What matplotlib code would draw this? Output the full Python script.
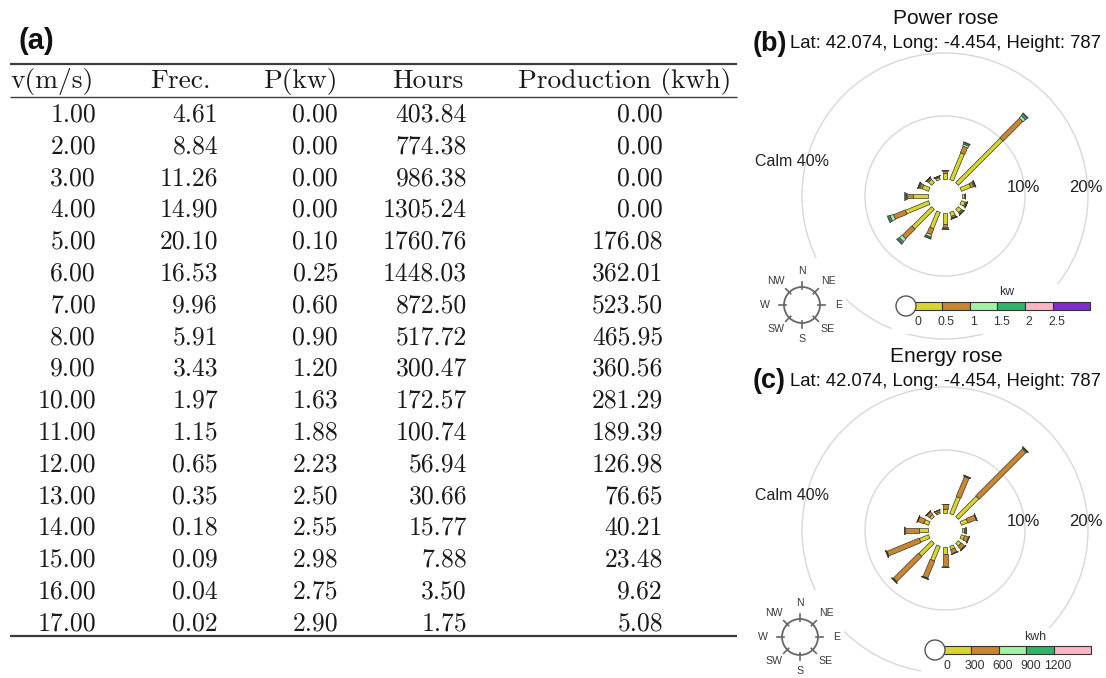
import numpy as np
import matplotlib
matplotlib.use("Agg")
import matplotlib.pyplot as plt
from matplotlib.patches import Polygon, Circle, Rectangle

# ---------------- wind / production table ----------------
speed = [1, 2, 3, 4, 5, 6, 7, 8, 9, 10, 11, 12, 13, 14, 15, 16, 17]
frec = [4.61, 8.84, 11.26, 14.90, 20.10, 16.53, 9.96, 5.91, 3.43, 1.97,
        1.15, 0.65, 0.35, 0.18, 0.09, 0.04, 0.02]
power_kw = [0.00, 0.00, 0.00, 0.00, 0.10, 0.25, 0.60, 0.90, 1.20, 1.63,
            1.88, 2.23, 2.50, 2.55, 2.98, 2.75, 2.90]
hours = [403.84, 774.38, 986.38, 1305.24, 1760.76, 1448.03, 872.50, 517.72,
         300.47, 172.57, 100.74, 56.94, 30.66, 15.77, 7.88, 3.50, 1.75]
production = [0.00, 0.00, 0.00, 0.00, 176.08, 362.01, 523.50, 465.95, 360.56,
              281.29, 189.39, 126.98, 76.65, 40.21, 23.48, 9.62, 5.08]
table_headers = ["v(m/s)", "Frec.", "P(kw)", "Hours", "Production (kwh)"]

# ---------------- rose data (% of time per direction) ----------------
directions = ["N", "NNE", "NE", "ENE", "E", "ESE", "SE", "SSE",
              "S", "SSW", "SW", "WSW", "W", "WNW", "NW", "NNW"]
calm_pct = 40
ring_pcts = [10, 20]

power_bin_labels = ["0", "0.5", "1", "1.5", "2", "2.5"]
pw_0_05 = [0.90, 4.60, 10.0, 1.60, 0.30, 0.65, 0.70, 0.70, 1.70, 2.80, 4.40, 4.00, 2.40, 1.10, 0.70, 0.35]
pw_05_1 = [0.35, 1.10, 4.40, 0.50, 0.12, 0.20, 0.25, 0.25, 0.55, 1.00, 2.10, 2.00, 0.90, 0.40, 0.25, 0.15]
pw_1_15 = [0.12, 0.35, 0.50, 0.15, 0.05, 0.08, 0.08, 0.08, 0.20, 0.40, 0.60, 0.55, 0.25, 0.15, 0.08, 0.05]
pw_15_2 = [0.08, 0.25, 0.40, 0.10, 0.03, 0.05, 0.05, 0.05, 0.10, 0.20, 0.35, 0.30, 0.15, 0.10, 0.05, 0.03]
pw_2_25 = [0.05, 0.10, 0.10, 0.05, 0.00, 0.02, 0.02, 0.02, 0.05, 0.10, 0.15, 0.15, 0.10, 0.05, 0.02, 0.02]
pw_25_up = [0.0] * 16

energy_bin_labels = ["0", "300", "600", "900", "1200"]
en_0_300 = [0.70, 2.90, 4.60, 1.10, 0.25, 0.55, 0.60, 0.55, 1.10, 2.50, 2.90, 1.60, 1.40, 0.80, 0.45, 0.25]
en_300_600 = [0.70, 3.40, 10.5, 1.40, 0.30, 0.65, 0.70, 0.65, 1.95, 2.90, 5.60, 5.50, 2.25, 1.00, 0.55, 0.30]
en_600_900 = [0.05, 0.10, 0.15, 0.05, 0.03, 0.05, 0.05, 0.05, 0.08, 0.10, 0.10, 0.10, 0.08, 0.05, 0.05, 0.03]
en_900_1200 = [0.03, 0.05, 0.10, 0.03, 0.02, 0.03, 0.03, 0.03, 0.05, 0.05, 0.05, 0.05, 0.05, 0.03, 0.03, 0.02]
en_1200_up = [0.02, 0.05, 0.05, 0.02, 0.00, 0.02, 0.02, 0.02, 0.02, 0.05, 0.05, 0.05, 0.02, 0.02, 0.02, 0.00]

bin_colors = ["#D6D62E", "#C98530", "#A6EFA6", "#2DB56A", "#F5B8C4", "#7B2ED1"]

# ---------------- figure ----------------
W, H = 1106, 678
fig = plt.figure(figsize=(W / 100, H / 100), dpi=100)
fig.patch.set_facecolor("white")

SANS = "Liberation Sans"
SERIF = "cmr10"
PX = 6.3          # pixels per percent in the roses
HOLE = 17 / PX    # radius of the calm hole, in percent units
EDGE = "#3a3a30"


def rose_axes(x0, x1, y0, y1, cx, cy):
    ax = fig.add_axes([x0 / W, 1 - y1 / H, (x1 - x0) / W, (y1 - y0) / H])
    ax.set_xlim((x0 - cx) / PX, (x1 - cx) / PX)
    ax.set_ylim((cy - y1) / PX, (cy - y0) / PX)
    ax.axis("off")
    ax.set_zorder(1)
    return ax


def draw_rose(ax, bins, colors, widths_px):
    theta = np.deg2rad(np.arange(len(directions)) * 360.0 / len(directions))
    u = np.column_stack([np.sin(theta), np.cos(theta)])
    p = np.column_stack([np.cos(theta), -np.sin(theta)])
    base = np.full(len(directions), HOLE)
    for vals, col, wpx in zip(bins, colors, widths_px):
        vals = np.asarray(vals, dtype=float)
        top = base + vals
        hw = wpx / 2 / PX
        for k in range(len(directions)):
            if vals[k] <= 0:
                continue
            pts = [base[k] * u[k] + hw * p[k], top[k] * u[k] + hw * p[k],
                   top[k] * u[k] - hw * p[k], base[k] * u[k] - hw * p[k]]
            ax.add_patch(Polygon(pts, closed=True, facecolor=col,
                                 edgecolor=EDGE, lw=0.5, zorder=3))
        base = top
    for r in ring_pcts:
        ax.add_patch(Circle((0, 0), HOLE + r, fill=False, ec="#d8d8d8",
                            lw=1.0, zorder=1))
        ax.text(HOLE + r - 0.3, 1.3, f"{r}%", ha="center", va="center",
                fontsize=12, family=SANS, color="#222", zorder=4)
    ax.text(-24.3, 5.4, f"Calm {calm_pct}%", ha="center", va="center",
            fontsize=11.5, family=SANS, color="#222", zorder=4)


# power rose (b) and energy rose (c)
ax_b = rose_axes(750, 1106, 45, 345, 945, 196)
draw_rose(ax_b, [pw_0_05, pw_05_1, pw_1_15, pw_15_2, pw_2_25, pw_25_up],
          bin_colors, [4.0, 4.8, 5.6, 6.4, 7.2, 8.0])
ax_c = rose_axes(750, 1106, 378, 678, 945, 530)
draw_rose(ax_c, [en_0_300, en_300_600, en_600_900, en_900_1200, en_1200_up],
          bin_colors[:5], [4.0, 5.0, 6.0, 7.0, 8.0])

# overlay in pixel coordinates for the table, titles and keys
ov = fig.add_axes([0, 0, 1, 1])
ov.set_xlim(0, W)
ov.set_ylim(H, 0)
ov.axis("off")
ov.set_zorder(5)

# ---- table (a) ----
ov.text(18, 41, "(a)", fontsize=21, fontweight="bold", family=SANS,
        ha="left", va="center", color="#111")
rule_x0, rule_x1 = 10, 737
ov.plot([rule_x0, rule_x1], [64, 64], color="#3c3c3c", lw=1.6, solid_capstyle="butt")
ov.plot([rule_x0, rule_x1], [97, 97], color="#3c3c3c", lw=1.0, solid_capstyle="butt")
ov.plot([rule_x0, rule_x1], [636, 636], color="#3c3c3c", lw=1.6, solid_capstyle="butt")

header_centers = [52, 180, 300, 428, 625]
col_right = [96, 218, 338, 467, 663]
TFS = 18.5
for hx, label in zip(header_centers, table_headers):
    ov.text(hx, 88, label, fontsize=19.8, family=SERIF, ha="center",
            va="baseline", color="#1a1a1a")

row_base0, row_step = 121.5, 31.8
columns = [speed, frec, power_kw, hours, production]
for i in range(len(speed)):
    yb = row_base0 + i * row_step
    for cx, col in zip(col_right, columns):
        ov.text(cx, yb, f"{col[i]:.2f}", fontsize=TFS, family=SERIF,
                ha="right", va="baseline", color="#1a1a1a")


# ---- rose titles ----
def rose_title(cy_title, tag, title):
    ov.text(946, cy_title, title, fontsize=15, family=SANS, ha="center",
            va="center", color="#111")
    ov.text(753, cy_title + 25, tag, fontsize=19.5, fontweight="bold",
            family=SANS, ha="left", va="center", color="#111")
    ov.text(790, cy_title + 25, "Lat: 42.074, Long: -4.454, Height: 787",
            fontsize=13.3, family=SANS, ha="left", va="center", color="#111")


rose_title(19, "(b)", "Power rose")
rose_title(356, "(c)", "Energy rose")


# ---- compass keys ----
def compass(cx, cy):
    ov.add_patch(Rectangle((cx - 48, cy - 47), 92, 94, fc="white", ec="none", zorder=1))
    ov.add_patch(Circle((cx, cy), 18, fill=False, ec="#666", lw=1.3, zorder=2))
    names = ["N", "NE", "E", "SE", "S", "SW", "W", "NW"]
    for k, name in enumerate(names):
        a = np.deg2rad(k * 45)
        s, c = np.sin(a), np.cos(a)
        ov.plot([cx + 16 * s, cx + 23 * s], [cy - 16 * c, cy - 23 * c],
                color="#666", lw=1.2, zorder=2)
        ov.text(cx + 35 * s * 1.05, cy - 34 * c, name, fontsize=7.6,
                family=SANS, ha="center", va="center", color="#3a3a3a", zorder=3)


compass(802, 305)
compass(800, 637)


# ---- colour keys ----
def colour_key(x_left, yc, labels, colors, unit, unit_x, unit_y):
    n = len(labels)
    seg = 27.8
    widths = [seg] * (n - 1) + [37]
    lefts = x_left + np.concatenate([[0], np.cumsum(widths)[:-1]])
    ov.add_patch(Rectangle((x_left - 22, yc - 22), 1104 - x_left + 22, 50,
                           fc="white", ec="none", zorder=1))
    ov.barh([yc] * n, widths, left=lefts, height=8.5, color=colors,
            edgecolor="#333", lw=0.8, zorder=2)
    ov.add_patch(Circle((x_left - 8, yc), 10, fc="white", ec="#555", lw=1.0, zorder=3))
    for lx, lab in zip(lefts, labels):
        ov.text(lx + 4, yc + 16, lab, fontsize=8.8, family=SANS, ha="center",
                va="center", color="#333", zorder=3)
    ov.text(unit_x, unit_y, unit, fontsize=8.8, family=SANS, ha="center",
            va="center", color="#333", zorder=3)


colour_key(914, 306, power_bin_labels, bin_colors, "kw", 1007, 292)
colour_key(943, 650, energy_bin_labels, bin_colors[:5], "kwh", 1035, 637)

fig.savefig("out.png", dpi=100, facecolor="white")
